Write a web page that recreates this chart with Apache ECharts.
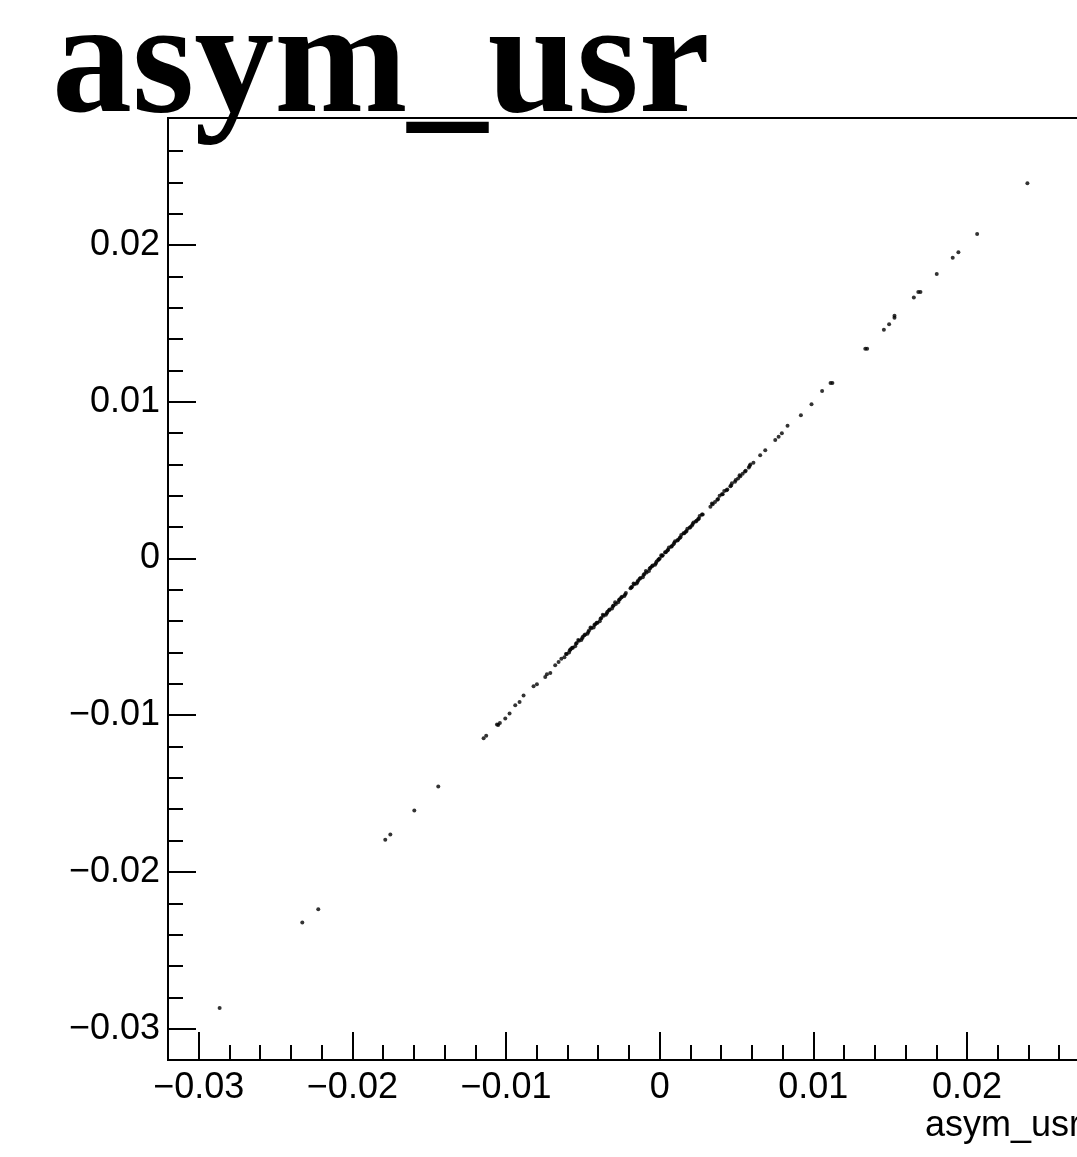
<!DOCTYPE html>
<html>
<head>
<meta charset="utf-8">
<script src="https://cdn.jsdelivr.net/npm/echarts@6/dist/echarts.min.js"></script>
<style>
html,body{margin:0;padding:0;background:#fff;}
#chart{width:1077px;height:1157px;}
</style>
</head>
<body>
<div id="chart"></div>
<script>
const titleText = 'asym_usr';
const xAxisTitle = 'asym_usr';
const majorTicks = [-0.03, -0.02, -0.01, 0, 0.01, 0.02];
const xMinorTicks = [-0.028,-0.026,-0.024,-0.022,-0.018,-0.016,-0.014,-0.012,-0.008,-0.006,-0.004,-0.002,
  0.002,0.004,0.006,0.008,0.012,0.014,0.016,0.018,0.022,0.024,0.026];
const yMinorTicks = [-0.028,-0.026,-0.024,-0.022,-0.018,-0.016,-0.014,-0.012,-0.008,-0.006,-0.004,-0.002,
  0.002,0.004,0.006,0.008,0.012,0.014,0.016,0.018,0.022,0.024,0.026];

// sparse lower tail
const tailLow = [
  [-0.02864,-0.02868],[-0.02326,-0.02323],[-0.02222,-0.02238],[-0.01786,-0.01795],[-0.01753,-0.01761],
  [-0.01597,-0.01608],[-0.01441,-0.01455],[-0.01146,-0.01148],[-0.01129,-0.01131],[-0.01059,-0.01059],
  [-0.01051,-0.01063],[-0.01040,-0.01050],[-0.01005,-0.01022],[-0.00977,-0.00990],[-0.00940,-0.00937],
  [-0.00912,-0.00916],[-0.00886,-0.00874],[-0.00821,-0.00816],[-0.00799,-0.00803],[-0.00745,-0.00757],
  [-0.00734,-0.00739],[-0.00712,-0.00731],[-0.00680,-0.00682],[-0.00658,-0.00661],[-0.00640,-0.00640]
];
// dense core
const core = [
  [-0.0062,-0.0063],[-0.0061,-0.0061],[-0.0059,-0.0060],[-0.0058,-0.0058],[-0.0057,-0.0057],
  [-0.0055,-0.0056],[-0.0054,-0.0054],[-0.0053,-0.0052],[-0.0051,-0.0052],[-0.0050,-0.0050],
  [-0.0049,-0.0049],[-0.0047,-0.0048],[-0.0046,-0.0046],[-0.0045,-0.0044],[-0.0043,-0.0044],
  [-0.0042,-0.0042],[-0.0041,-0.0041],[-0.0039,-0.0040],[-0.0038,-0.0038],[-0.0037,-0.0036],
  [-0.0035,-0.0036],[-0.0034,-0.0034],[-0.0033,-0.0033],[-0.0031,-0.0032],[-0.0030,-0.0030],
  [-0.0029,-0.0028],[-0.0027,-0.0028],[-0.0026,-0.0026],[-0.0025,-0.0025],[-0.0023,-0.0024],
  [-0.0022,-0.0022],[-0.0019,-0.0019],[-0.0018,-0.0018],[-0.0017,-0.0016],[-0.0015,-0.0016],
  [-0.0014,-0.0014],[-0.0013,-0.0013],[-0.0011,-0.0012],[-0.0010,-0.0010],[-0.0009,-0.0008],
  [-0.0007,-0.0008],[-0.0006,-0.0006],[-0.0005,-0.0005],[-0.0003,-0.0004],[-0.0002,-0.0002],
  [-0.0001,-0.0001],[0.0000,0.0000],[0.0001,0.0002],[0.0002,0.0002],[0.0004,0.0004],
  [0.0005,0.0005],[0.0006,0.0007],[0.0008,0.0008],[0.0009,0.0009],[0.0010,0.0011],
  [0.0012,0.0012],[0.0013,0.0013],[0.0014,0.0015],[0.0016,0.0016],[0.0017,0.0017],
  [0.0018,0.0019],[0.0020,0.0020],[0.0021,0.0021],[0.0022,0.0023],[0.0024,0.0024],
  [0.0025,0.0025],[0.0026,0.0027],[0.0028,0.0028],[0.0033,0.0033],[0.0034,0.0035],
  [0.0036,0.0036],[0.0038,0.0038],[0.0039,0.0040],[0.0041,0.0041],[0.0042,0.0043],
  [0.0044,0.0044],[0.0046,0.0046],[0.0047,0.0048],[0.0049,0.0049],[0.0051,0.0051],
  [0.0052,0.0053],[0.0054,0.0054],[0.0056,0.0056],[0.0058,0.0058],[0.0059,0.0060],
  [0.0061,0.0061]
];
// more points inside the dense core
const coreFill = [
  [-0.00605,-0.00610],[-0.00585,-0.00585],[-0.00565,-0.00570],[-0.00545,-0.00545],[-0.00525,-0.00525],
  [-0.00505,-0.00510],[-0.00485,-0.00485],[-0.00465,-0.00470],[-0.00445,-0.00445],[-0.00425,-0.00425],
  [-0.00405,-0.00410],[-0.00385,-0.00385],[-0.00365,-0.00365],[-0.00345,-0.00350],[-0.00325,-0.00325],
  [-0.00305,-0.00305],[-0.00285,-0.00290],[-0.00265,-0.00265],[-0.00245,-0.00245],[-0.00225,-0.00230],
  [-0.00185,-0.00185],[-0.00165,-0.00165],[-0.00145,-0.00150],[-0.00125,-0.00125],[-0.00105,-0.00105],
  [-0.00085,-0.00090],[-0.00065,-0.00065],[-0.00045,-0.00045],[-0.00025,-0.00030],[-0.00005,-0.00005],
  [0.00015,0.00015],[0.00035,0.00040],[0.00055,0.00055],[0.00075,0.00075],[0.00095,0.00100],
  [0.00115,0.00115],[0.00135,0.00135],[0.00155,0.00160],[0.00175,0.00175],[0.00195,0.00195],
  [0.00215,0.00220],[0.00235,0.00235],[0.00255,0.00255],[0.00275,0.00280],[0.00345,0.00345],
  [0.00375,0.00375],[0.00405,0.00410],[0.00435,0.00435],[0.00465,0.00465],[0.00495,0.00500],
  [0.00525,0.00525],[0.00555,0.00555],[0.00585,0.00590]
];
// sparse upper tail
const tailHigh = [
  [0.00654,0.00659],[0.00687,0.00690],[0.00752,0.00755],[0.00774,0.00776],[0.00795,0.00798],
  [0.00832,0.00846],[0.00919,0.00914],[0.00988,0.00983],[0.01057,0.01068],[0.01112,0.01119],
  [0.01124,0.01119],[0.01338,0.01338],[0.01350,0.01338],[0.01459,0.01459],[0.01493,0.01494],
  [0.01528,0.01535],[0.01528,0.01549],[0.01654,0.01664],[0.01683,0.01700],[0.01697,0.01700],
  [0.01803,0.01815],[0.01907,0.01919],[0.01944,0.01953],[0.02066,0.02070],[0.02393,0.02394]
];

const points = tailLow.concat(core, coreFill, tailHigh);

const fmt = v => {
  if (Math.abs(v) < 1e-12) return '0';
  const s = String(+Math.abs(v).toFixed(4));
  return (v < 0 ? '\u2212' : '') + s;
};
const labelFont = '"Liberation Sans", Arial, Helvetica, sans-serif';

const chart = echarts.init(document.getElementById('chart'), null, {renderer: 'canvas'});
chart.setOption({
  backgroundColor: '#fff',
  animation: false,
  grid: {left: 168, top: 118, width: 925, height: 942, containLabel: false, outerBoundsMode: 'none',
    show: true, borderColor: '#000', borderWidth: 2, backgroundColor: 'transparent'},
  xAxis: [{
    type: 'value', min: -0.032, max: 0.0282, position: 'bottom',
    axisLine: {show: true, onZero: false, lineStyle: {color: '#000', width: 2}},
    axisTick: {show: true, inside: true, length: 28, customValues: majorTicks, lineStyle: {color: '#000', width: 2}},
    axisLabel: {show: true, customValues: majorTicks, formatter: fmt, fontSize: 36, fontFamily: labelFont, color: '#000', margin: 10},
    splitLine: {show: false},
    name: xAxisTitle, nameLocation: 'end', nameGap: 0,
    nameTextStyle: {fontSize: 36, fontFamily: labelFont, color: '#000', align: 'right', verticalAlign: 'top', padding: [48, 12, 0, 0]}
  }, {
    type: 'value', min: -0.032, max: 0.0282, position: 'bottom', offset: 0,
    axisLine: {show: false, onZero: false},
    axisTick: {show: true, inside: true, length: 15, customValues: xMinorTicks, lineStyle: {color: '#000', width: 2}},
    axisLabel: {show: false},
    splitLine: {show: false}
  }],
  yAxis: [{
    type: 'value', min: -0.032, max: 0.0281, position: 'left',
    axisLine: {show: true, onZero: false, lineStyle: {color: '#000', width: 2}},
    axisTick: {show: true, inside: true, length: 28, customValues: majorTicks, lineStyle: {color: '#000', width: 2}},
    axisLabel: {show: true, customValues: majorTicks, formatter: fmt, fontSize: 36, fontFamily: labelFont, color: '#000', margin: 8},
    splitLine: {show: false}
  }, {
    type: 'value', min: -0.032, max: 0.0281, position: 'left', offset: 0,
    axisLine: {show: false, onZero: false},
    axisTick: {show: true, inside: true, length: 15, customValues: yMinorTicks, lineStyle: {color: '#000', width: 2}},
    axisLabel: {show: false},
    splitLine: {show: false}
  }],
  series: [{
    type: 'scatter', xAxisIndex: 0, yAxisIndex: 0,
    data: points, symbol: 'circle', symbolSize: 4,
    itemStyle: {color: '#000'}
  }],
  graphic: [{
    type: 'text', left: 52, top: -10, z: 100,
    style: {text: titleText, font: 'bold 160px "Liberation Serif", "Times New Roman", serif', fill: '#000'}
  }]
});
</script>
</body>
</html>
